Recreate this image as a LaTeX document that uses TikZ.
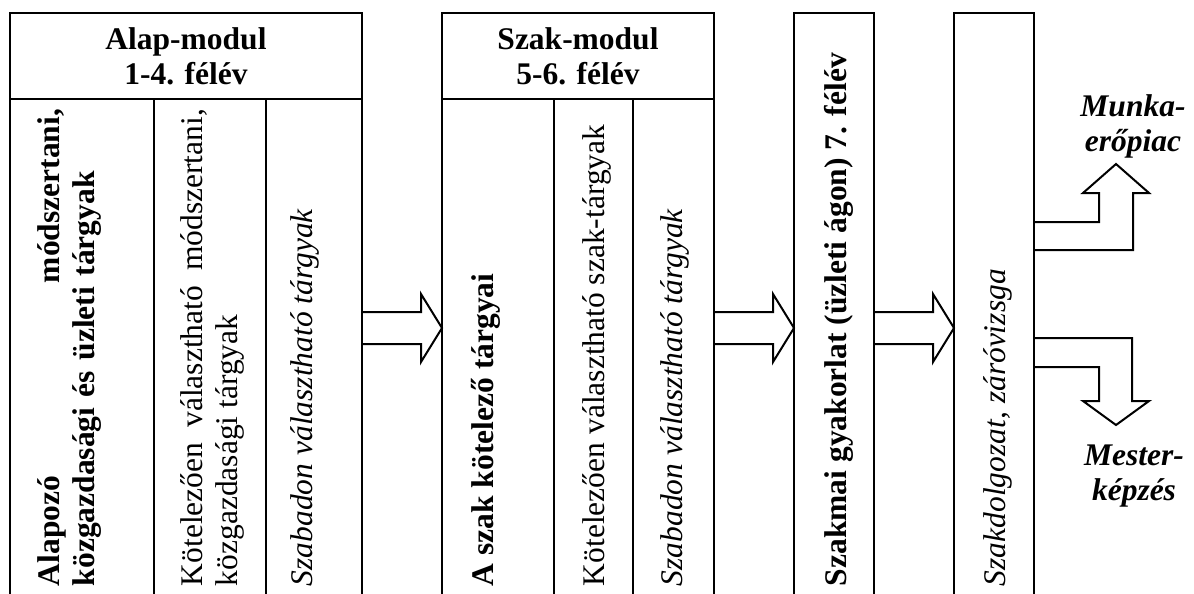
\documentclass[tikz,border=0pt]{standalone}
\usepackage{fontspec}
\setmainfont{Liberation Serif}
\usetikzlibrary{calc}

% outlined arrow between two columns, at the height of (mid)
\newcommand{\blockarrow}[2]{%
  \draw let \p1=(#1.east |- mid), \p2=(#2.west |- mid) in
    (\x1,\y1+8pt) -- (\x2-10.5pt,\y1+8pt) -- (\x2-10.5pt,\y1+17pt)
    -- (\p2) -- (\x2-10.5pt,\y1-17pt) -- (\x2-10.5pt,\y1-8pt) -- (\x1,\y1-8pt);}

\begin{document}
\fontsize{15.75}{17.5}\selectfont
\begin{tikzpicture}[x=0.5pt,y=-0.5pt,line width=1pt]

  \tikzstyle{header}=[draw,rectangle,anchor=north west,inner sep=0pt,outer sep=0pt,
                      minimum height=43pt,align=center,font=\bfseries]
  \tikzstyle{cell}=[draw,rectangle,anchor=north west,inner sep=0pt,outer sep=0pt,
                    minimum height=280pt]
  \tikzstyle{vtext}=[rotate=90,anchor=north west,inner sep=0pt]
  \tikzstyle{exit}=[align=center,font=\bfseries\itshape]

  \useasboundingbox (0,0) rectangle (1194,594);
  \clip (0,0) rectangle (1194,594);
  \coordinate (mid) at (0,328);

  % Alap-modul
  \node [header,minimum width=176pt] (alap) at (10,13) {Alap-modul\\1-4. félév};
  \node [cell,minimum width=72pt] (a1) at (10,99)  {};
  \node [cell,minimum width=56pt] (a2) at (154,99) {};
  \node [cell,minimum width=48pt] (a3) at (266,99) {};
  \node [vtext,text width=238.5pt,align=left,font=\bfseries] (a1t) at (37,587)
    {Alapozó\hfill módszertani,\\közgazdasági és üzleti tárgyak};
  \node [vtext,text width=238.5pt,align=justify] (a2t) at (180,587)
    {Kötelezően választható módszertani,\linebreak közgazdasági tárgyak};
  \node [vtext,font=\itshape] (a3t) at (290,587) {Szabadon választható tárgyak};

  % Szak-modul
  \node [header,minimum width=136pt] (szak) at (442,13) {Szak-modul\\5-6. félév};
  \node [cell,minimum width=56pt]   (s1) at (442,99) {};
  \node [cell,minimum width=39.5pt] (s2) at (554,99) {};
  \node [cell,minimum width=40.5pt] (s3) at (633,99) {};
  \node [vtext,font=\bfseries] (s1t) at (470,587) {A szak kötelező tárgyai};
  \node [vtext]                (s2t) at (582,587) {Kötelezően választható szak-tárgyak};
  \node [vtext,font=\itshape]  (s3t) at (660,587) {Szabadon választható tárgyak};

  % gyakorlat, zarovizsga
  \node [cell,minimum width=40pt,minimum height=300pt] (gy) at (794,13) {};
  \node [cell,minimum width=40pt,minimum height=300pt] (zv) at (954,13) {};
  \node [vtext,font=\bfseries] (gyt) at (823,587) {Szakmai gyakorlat (üzleti ágon) 7. félév};
  \node [vtext,font=\itshape]  (zvt) at (983,587) {Szakdolgozat, záróvizsga};

  \blockarrow{a3}{s1}
  \blockarrow{s3}{gy}
  \blockarrow{gy}{zv}

  % kimenetek
  \node [exit] (munka)  at (1133,126) {Munka-\\erőpiac};
  \node [exit] (mester) at (1134,476) {Mester-\\képzés};
  \draw (zv.east |- 0,222) -- ++(65,0) -- ++(0,-29) -- ++(-16,0) -- ++(33,-29)
    -- ++(33,29) -- ++(-16,0) -- ++(0,57) -- (zv.east |- 0,250);
  \draw (zv.east |- 0,338) -- ++(98,0) -- ++(0,63) -- ++(17,0) -- ++(-33,24)
    -- ++(-33,-24) -- ++(16,0) -- ++(0,-34) -- (zv.east |- 0,367);
\end{tikzpicture}
\end{document}
